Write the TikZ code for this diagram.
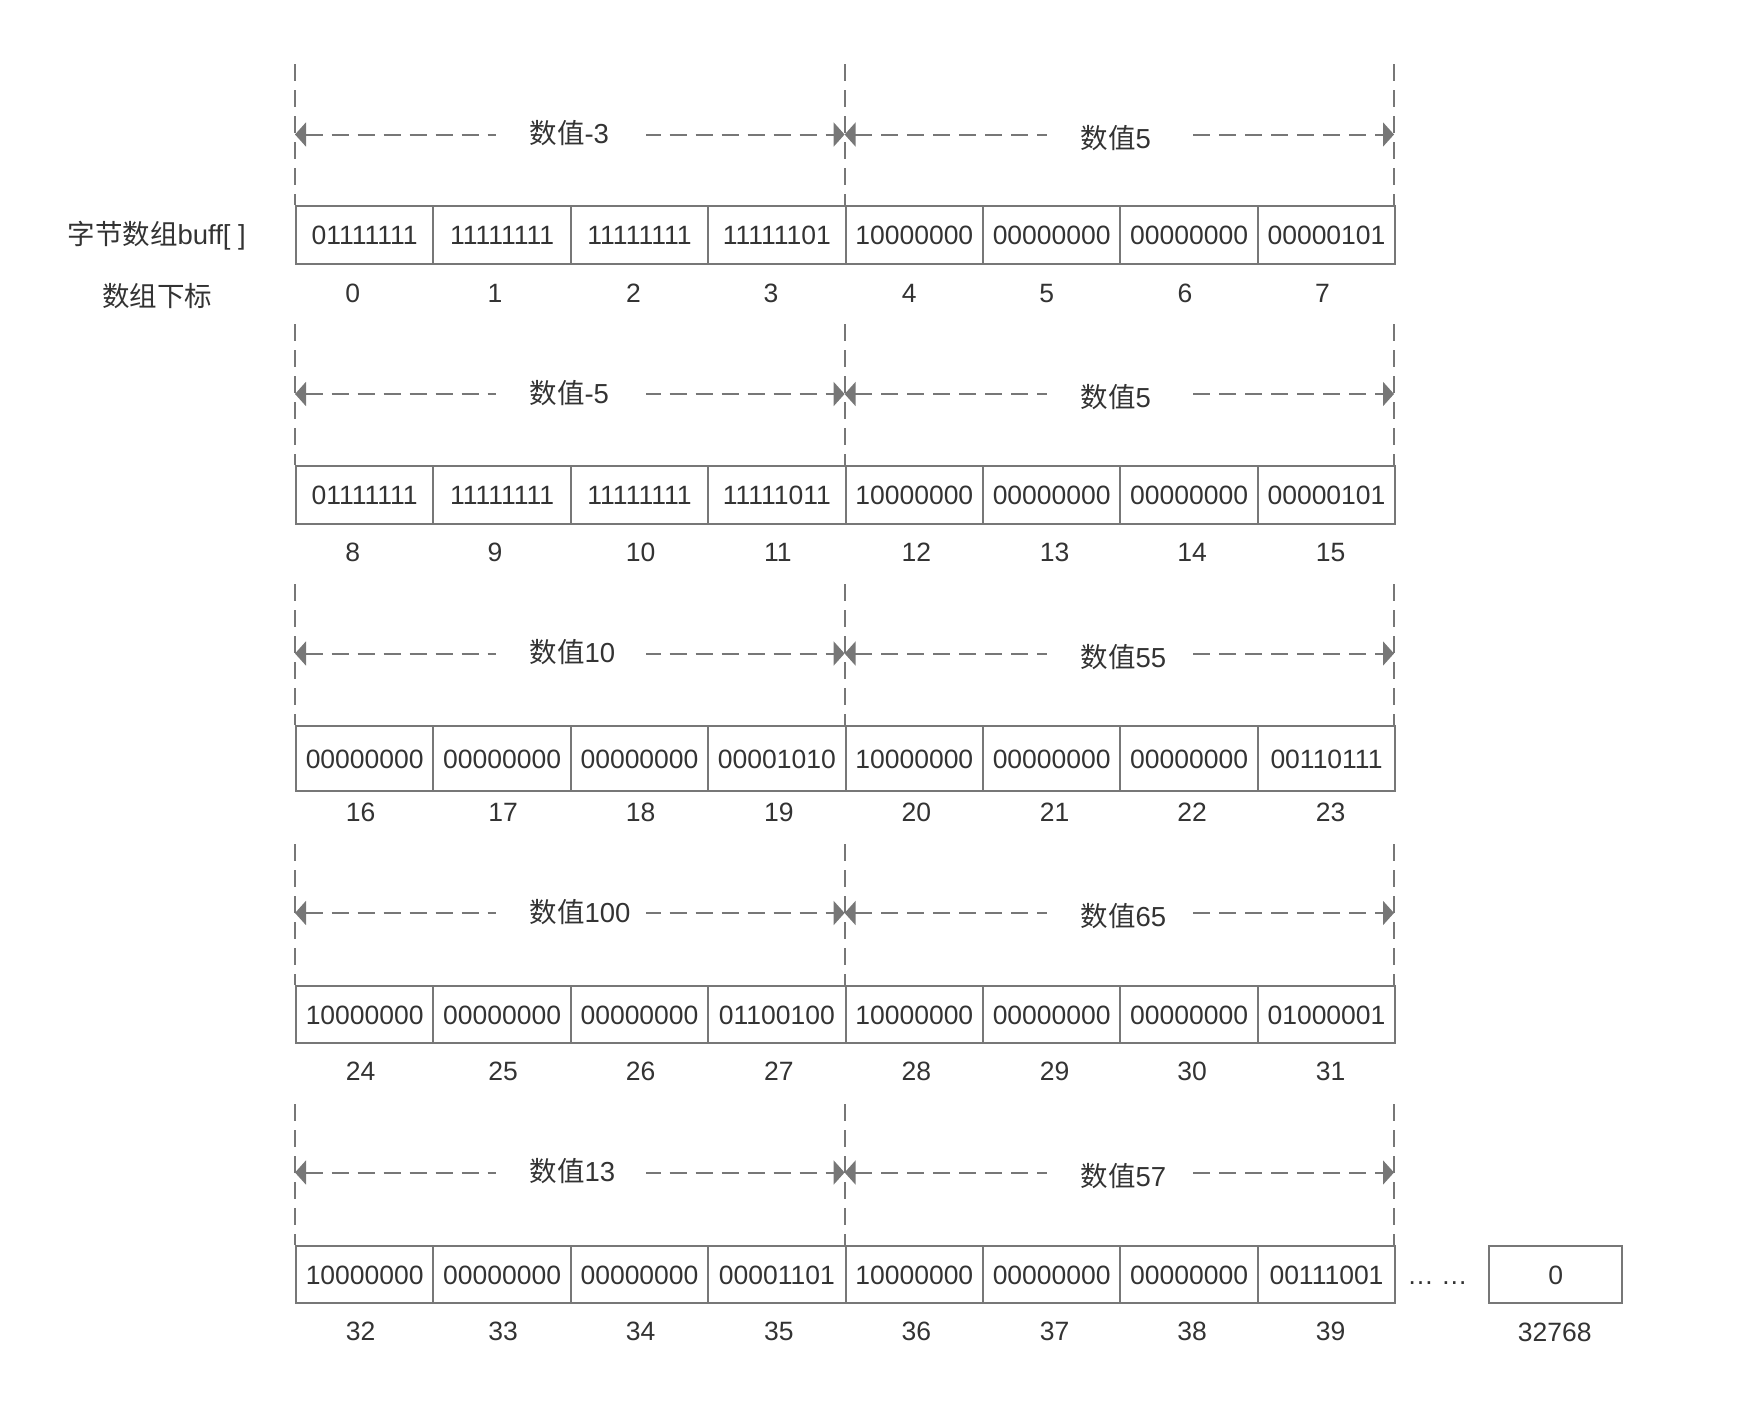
\documentclass[tikz,border=0pt]{standalone}
\usepackage{fontspec}
\setmainfont{Liberation Sans}
\newfontfamily\cjk{Noto Sans CJK SC}
\usetikzlibrary{arrows.meta}
\newlength\pxu
\setlength\pxu{0.4pt}
\definecolor{linegray}{HTML}{777777}
\definecolor{textgray}{HTML}{333333}
\tikzset{
	cell/.style={rectangle, draw=linegray, line width=2\pxu, inner sep=0pt, minimum width=137.4\pxu, anchor=north west, text=textgray, font=\fontsize{10.6}{12}\selectfont, text height=7.6pt, text depth=0pt},
	idx/.style={inner sep=0pt, text=textgray, font=\fontsize{10.6}{12}\selectfont, text height=7.6pt, text depth=0pt},
	guide/.style={draw=linegray, line width=2\pxu, dash pattern=on 17\pxu off 9\pxu},
	span/.style={guide, {Triangle[length=4.4pt, width=9.6pt]}-{Triangle[length=4.4pt, width=9.6pt]}},
	tag/.style={anchor=west, fill=white, inner xsep=0pt, inner ysep=4\pxu, text width=150\pxu, align=left, execute at begin node={\hspace*{34\pxu}}, text=textgray, font=\fontsize{11}{13}\selectfont, text height=9.68pt, text depth=1.32pt},
	side/.style={inner sep=0pt, text=textgray, font=\fontsize{11}{13}\selectfont, text height=9.68pt, text depth=1.32pt},
}

\begin{document}
\begin{tikzpicture}[x=\pxu, y=-\pxu]
	\useasboundingbox (0,0) rectangle (1746,1400);
	\node[side] (bytes) at (156.7,234) {{\cjk 字节数组}buff[ ]};
	\node[side] (index) at (157.3,296) {\cjk 数组下标};
	
	\foreach \r/\h/\la/\lb/\bits in {
		0/57.5/-3/5/{01111111,11111111,11111111,11111101,10000000,00000000,00000000,00000101},
		1/57.5/-5/5/{01111111,11111111,11111111,11111011,10000000,00000000,00000000,00000101},
		2/65/10/55/{00000000,00000000,00000000,00001010,10000000,00000000,00000000,00110111},
		3/57/100/65/{10000000,00000000,00000000,01100100,10000000,00000000,00000000,01000001},
		4/57/13/57/{10000000,00000000,00000000,00001101,10000000,00000000,00000000,00111001}} {
		\pgfmathsetmacro\ytop{205+260*\r}
		\pgfmathsetmacro\yarr{134.5+259.5*\r}
		\foreach \gx [count=\j] in {295,844.6,1394} {
			\coordinate (g\r-\j) at (\gx,{\ytop-141});
			\coordinate (e\r-\j) at (\gx,\ytop);
			\coordinate (a\r-\j) at (\gx,\yarr);
			\draw[guide] (g\r-\j) -- (e\r-\j);
		}
		\foreach \b [count=\i from 0] in \bits
			\node[cell, minimum height=\h\pxu] (c\r-\i) at ({295+137.4*\i},\ytop) {\b};
		\draw[span] (a\r-1) -- (a\r-2);
		\draw[span] (a\r-2) -- (a\r-3);
		\node[tag] (v\r-1) at (495,{\yarr-1}) {{\cjk 数值}\la};
		\node[tag, text width=146\pxu] (v\r-2) at (1046,{\yarr+3.5}) {{\cjk 数值}\lb};
	}
	
	\foreach \r/\offs in {0/{-11,-6,-5,-5,-4,-4,-3,-3}, 1/{-11,-6,2,2,3,4,4,5}, 2/{-3,2,2,3,3,4,4,5}, 3/{-3,2,2,3,3,4,4,5}, 4/{-3,2,2,3,3,4,4,5}}
		\foreach \dx [count=\i from 0] in \offs {
			\pgfmathtruncatemacro\n{8*\r+\i}
			\node[idx] (n\r-\i) at ({363.7+137.4*\i+\dx},{292.5+259.6*\r}) {\n};
		}
	
	\node[idx, anchor=base] (dots) at (1437.5,1284.5) {… …};
	\node[cell, minimum width=132.7\pxu, minimum height=57\pxu] (last) at (1488.3,1245) {0};
	\node[idx] (nlast) at (1554.7,1331.5) {32768};
\end{tikzpicture}
\end{document}
